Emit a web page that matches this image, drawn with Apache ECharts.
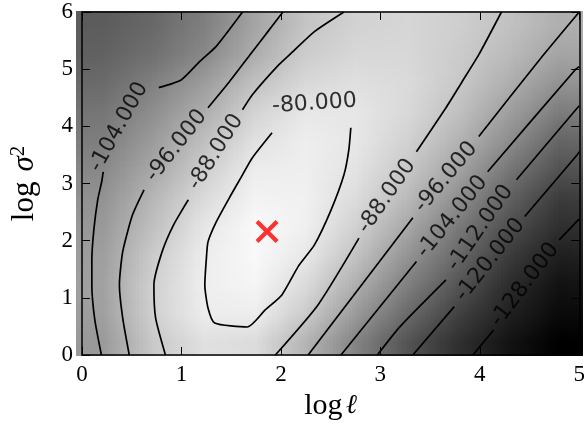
<!DOCTYPE html>
<html>
<head>
<meta charset="utf-8">
<script src="https://cdn.jsdelivr.net/npm/echarts@6/dist/echarts.min.js"></script>
<style>
html, body { margin: 0; padding: 0; background: #fff; }
#wrap { position: relative; width: 588px; height: 431px; }
#field { position: absolute; left: 76px; top: 11px; width: 507px; height: 345px; overflow: hidden; }
/* one pixel per cell (3x3 mirrored tiles so the edges stay clean), stretched by the browser */
#fieldTiny { position: absolute; left: -507px; top: -345px; width: 30px; height: 36px; transform-origin: 0 0; transform: scale(50.7, 28.75); }
#main { position: absolute; left: 0; top: 0; width: 588px; height: 431px; }
</style>
</head>
<body>
<div id="wrap">
	<div id="field"><div id="fieldTiny"></div></div>
	<div id="main"></div>
</div>
<script>
// log-likelihood at cell centres, bottom row first
const xCells = ['0.25', '0.75', '1.25', '1.75', '2.25', '2.75', '3.25', '3.75', '4.25', '4.75']
const yCells = ['0.25', '0.75', '1.25', '1.75', '2.25', '2.75', '3.25', '3.75', '4.25', '4.75', '5.25', '5.75']
const fieldRows = [
	[-102.5, -88.9, -83.5, -82.5, -92.7, -104.6, -115.6, -124.0, -130.5, -136.0],
	[-101.5, -87.8, -80.5, -79.0, -87.0, -99.4, -110.2, -120.8, -127.7, -134.0],
	[-100.5, -87.5, -79.8, -77.0, -83.2, -94.3, -105.2, -115.3, -124.7, -131.5],
	[-100.8, -88.8, -80.1, -76.5, -79.9, -89.5, -100.5, -110.3, -121.5, -128.9],
	[-101.8, -91.2, -81.6, -76.0, -78.0, -85.9, -95.8, -106.3, -117.2, -125.4],
	[-102.8, -93.3, -84.6, -78.0, -78.2, -83.1, -91.3, -101.5, -112.2, -122.5],
	[-104.2, -96.4, -88.0, -79.2, -78.5, -81.4, -88.0, -96.4, -107.3, -118.0],
	[-107.0, -99.5, -91.3, -81.9, -79.0, -80.6, -86.0, -92.8, -102.0, -113.3],
	[-109.5, -102.2, -95.6, -85.3, -79.8, -80.5, -84.3, -89.6, -97.4, -107.6],
	[-111.0, -105.5, -99.0, -89.4, -84.0, -82.0, -83.0, -87.5, -93.9, -102.3],
	[-113.0, -109.0, -104.1, -94.8, -86.5, -84.5, -84.5, -87.0, -91.2, -98.1],
	[-114.5, -112.0, -108.0, -99.2, -90.7, -86.5, -85.5, -86.5, -89.2, -94.6]
]
const fieldMin = -136
const fieldMax = -76

// contour pieces [log l, log sigma^2], split where the labels sit
const contour80 = [
	[[1.911, 3.888], [1.713, 3.45], [1.614, 3.152], [1.482, 2.75], [1.35, 2.329], [1.267, 1.979], [1.251, 1.699], [1.235, 1.226], [1.267, 0.823], [1.334, 0.56], [1.663, 0.49], [1.842, 0.788], [2.01, 1.051], [2.178, 1.559], [2.337, 1.926], [2.505, 2.539], [2.634, 3.152], [2.683, 3.59], [2.703, 3.975]]
]
const contour88 = [
	[[0.839, 0], [0.74, 0.648], [0.723, 1.226], [0.805, 1.804], [0.921, 2.277], [1.069, 2.715]],
	[[1.614, 4.291], [1.713, 4.553], [1.98, 5.079], [2.109, 5.289], [2.337, 5.657], [2.634, 6]],
	[[1.944, 0], [2.373, 0.876], [2.785, 2.044]],
	[[3.363, 3.555], [3.66, 4.326], [3.822, 4.781], [3.99, 5.254], [4.218, 6]]
]
const contour96 = [
	[[0.475, 0], [0.409, 0.648], [0.376, 1.226], [0.409, 1.804], [0.508, 2.452], [0.624, 2.89]],
	[[1.267, 4.326], [1.482, 4.781], [1.713, 5.306], [1.861, 5.639], [2.02, 6]],
	[[2.274, 0], [3.327, 2.399]],
	[[3.99, 3.823], [4.601, 5.166], [5, 6]]
]
const contour104 = [
	[[0.195, 0], [0.129, 0.613], [0.099, 1.226], [0.099, 1.664], [0.119, 2.189], [0.158, 2.715], [0.198, 3.03], [0.213, 3.205]],
	[[0.772, 4.676], [1.0, 4.816], [1.185, 5.137], [1.347, 5.394], [1.614, 6]],
	[[2.604, 0], [3.363, 1.634]],
	[[4.079, 3.205], [4.96, 4.991], [5, 5.044]]
]
const contour112 = [
	[[2.97, 0], [3.198, 0.496], [3.66, 1.313]],
	[[4.369, 3.065], [4.98, 4.32], [5, 4.36]]
]
const contour120 = [
	[[3.327, 0], [3.743, 0.846]],
	[[4.452, 2.422], [4.98, 3.503], [5, 3.555]]
]
const contour128 = [
	[[3.931, 0], [4.139, 0.438]],
	[[4.799, 2.014], [5, 2.38]]
]

// inline contour labels: x, y, text, angle
const contourLabels = [
	[0.37, 3.99, '-104.000', 61],
	[0.95, 3.66, '-96.000', 52],
	[1.345, 3.55, '-88.000', 58],
	[2.337, 4.396, '-80.000', 4],
	[3.065, 2.78, '-88.000', 55],
	[3.66, 3.11, '-96.000', 50],
	[3.723, 2.417, '-104.000', 51],
	[4.005, 2.224, '-112.000', 55],
	[4.104, 1.664, '-120.000', 52],
	[4.452, 1.226, '-128.000', 53]
]

const bestPoint = [[1.861, 2.159]]

const heatData = []
fieldRows.forEach((row, j) => {
	row.forEach((v, i) => heatData.push([i, j, v]))
})

// 3x3 tiles, outer ones mirrored, only the middle one shows through the clip
const tiles = []
for (let gy = 0; gy < 3; gy++) {
	for (let gx = 0; gx < 3; gx++) {
		tiles.push({ gx, gy })
	}
}

echarts.init(document.getElementById('fieldTiny')).setOption({
	animation: false,
	grid: tiles.map(t => ({ left: t.gx * 10, top: t.gy * 12, width: 10, height: 12 })),
	xAxis: tiles.map((t, k) => ({ type: 'category', data: xCells, show: false, gridIndex: k, inverse: t.gx !== 1 })),
	yAxis: tiles.map((t, k) => ({ type: 'category', data: yCells, show: false, gridIndex: k, inverse: t.gy !== 1 })),
	visualMap: {
		show: false,
		min: fieldMin,
		max: fieldMax,
		inRange: { color: ['#000000', '#ffffff'] }
	},
	series: tiles.map((t, k) => ({
		type: 'heatmap',
		xAxisIndex: k,
		yAxisIndex: k,
		data: heatData,
		itemStyle: { borderWidth: 0 }
	}))
})

const serif = 'Liberation Serif'
const frame = { show: true, onZero: false, lineStyle: { color: '#000', width: 1.5 } }
const ticks = { show: true, inside: true, length: 8, lineStyle: { color: '#000', width: 1 } }

const lineSeries = []
const levels = [contour80, contour88, contour96, contour104, contour112, contour120, contour128]
levels.forEach(pieces => {
	pieces.forEach(piece => {
		lineSeries.push({
			type: 'line',
			data: piece,
			showSymbol: false,
			smooth: 0.2,
			clip: true,
			lineStyle: { color: '#000', width: 1.7 },
			silent: true
		})
	})
})

const chart = echarts.init(document.getElementById('main'))

chart.setOption({
	animation: false,
	backgroundColor: 'transparent',
	grid: { left: 77, top: 12, width: 505, height: 343 },
	xAxis: [
		{
			type: 'value', min: 0, max: 5, interval: 1,
			name: '{a|log} {b|ℓ}',
			nameLocation: 'middle',
			nameGap: 35,
			nameTextStyle: {
				rich: {
					a: { fontFamily: serif, fontSize: 30, color: '#000' },
					b: { fontFamily: 'DejaVu Serif', fontStyle: 'italic', fontSize: 27, color: '#000' }
				}
			},
			axisLine: frame, axisTick: ticks,
			axisLabel: { color: '#000', fontFamily: serif, fontSize: 23, margin: 8 },
			splitLine: { show: false }
		},
		{
			type: 'value', min: 0, max: 5, interval: 1, position: 'top',
			axisLine: frame, axisTick: ticks, axisLabel: { show: false }, splitLine: { show: false }
		}
	],
	yAxis: [
		{
			type: 'value', min: 0, max: 6, interval: 1,
			name: '{a|log}   {b|σ}{c|2}',
			nameLocation: 'middle',
			nameGap: 40,
			nameTextStyle: {
				rich: {
					a: { fontFamily: serif, fontSize: 31, color: '#000', lineHeight: 34 },
					b: { fontFamily: serif, fontStyle: 'italic', fontSize: 31, color: '#000', lineHeight: 34 },
					c: { fontFamily: serif, fontSize: 21, color: '#000', verticalAlign: 'top', lineHeight: 34 }
				}
			},
			axisLine: frame, axisTick: ticks,
			axisLabel: { color: '#000', fontFamily: serif, fontSize: 23, margin: 9 },
			splitLine: { show: false }
		},
		{
			type: 'value', min: 0, max: 6, interval: 1, position: 'right',
			axisLine: frame, axisTick: ticks, axisLabel: { show: false }, splitLine: { show: false }
		}
	],
	series: [
		...lineSeries,
		{
			type: 'scatter',
			silent: true,
			symbolSize: 1,
			itemStyle: { color: 'rgba(0,0,0,0)' },
			data: contourLabels.map(d => ({
				value: [d[0], d[1], d[2]],
				label: { rotate: d[3] }
			})),
			label: {
				show: true,
				position: 'inside',
				align: 'center',
				verticalAlign: 'middle',
				formatter: p => p.value[2],
				color: '#000',
				fontFamily: 'DejaVu Sans',
				fontSize: 22
			}
		},
		{
			type: 'scatter',
			silent: true,
			symbol: 'path://M2.6,0 L10,7.4 L17.4,0 L20,2.6 L12.6,10 L20,17.4 L17.4,20 L10,12.6 L2.6,20 L0,17.4 L7.4,10 L0,2.6 Z',
			symbolSize: 23,
			itemStyle: { color: '#ff0000' },
			data: bestPoint
		}
	]
})
</script>
</body>
</html>
